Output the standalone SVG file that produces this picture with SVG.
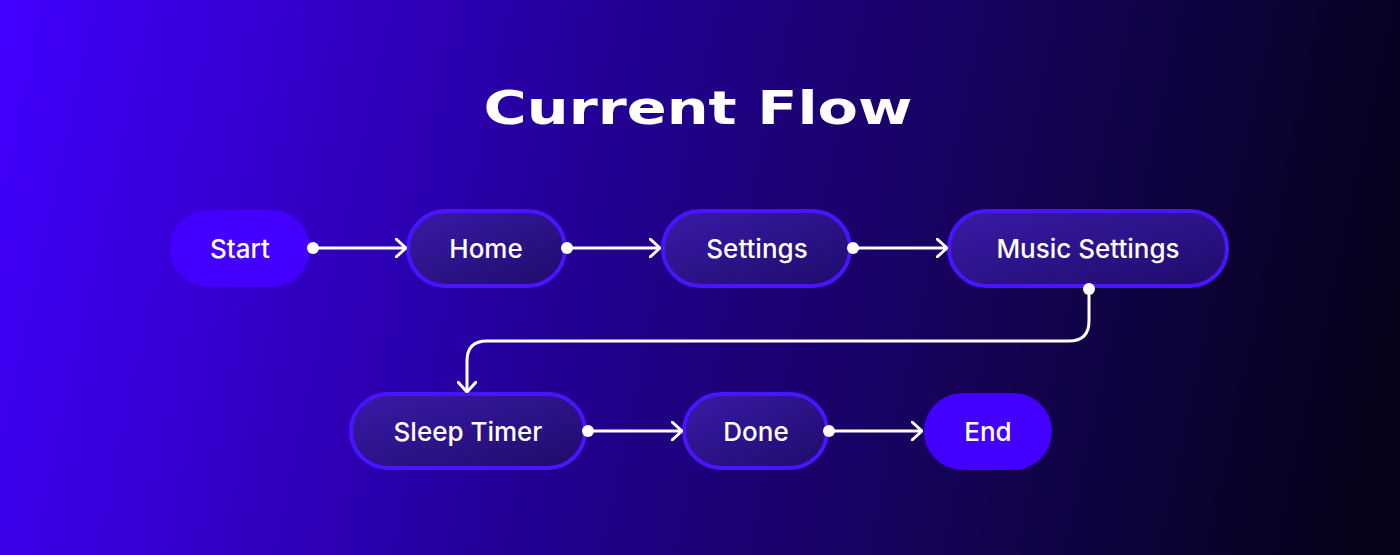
<svg xmlns="http://www.w3.org/2000/svg" width="1400" height="555" viewBox="0 0 1400 555">
<defs>
<linearGradient id="bg" x1="0" y1="0" x2="1400" y2="300" gradientUnits="userSpaceOnUse">
<stop offset="0" stop-color="#4200ff"/><stop offset="0.45" stop-color="#22008f"/><stop offset="0.75" stop-color="#13034f"/><stop offset="1" stop-color="#05021a"/>
</linearGradient>
<linearGradient id="nf" x1="0" y1="0" x2="1" y2="1">
<stop offset="0" stop-color="#3a1aa8"/><stop offset="1" stop-color="#1e0c6a"/>
</linearGradient>
<marker id="ah" viewBox="0 0 12 20" refX="11" refY="10" markerWidth="12" markerHeight="20" markerUnits="userSpaceOnUse" orient="auto">
<path d="M1,1 L11,10 L1,19" fill="none" stroke="#fff" stroke-width="3" stroke-linecap="round"/>
</marker>
<style>
.n{fill:url(#nf);stroke:#4a14ff;stroke-width:4}
.s{fill:#4400ff}
.t{font-family:Inter,"Noto Sans",sans-serif;font-size:26px;font-weight:500;fill:#fff;text-anchor:middle;dominant-baseline:central}
.c{fill:none;stroke:#fff;stroke-width:3;marker-end:url(#ah)}
</style>
</defs>
<rect width="1400" height="555" fill="url(#bg)"/>
<text x="698" y="124" transform="translate(698 0) scale(1.28 1) translate(-698 0)" text-anchor="middle" font-family="'DejaVu Sans',sans-serif" font-weight="bold" font-size="46" fill="#fff">Current Flow</text>
<g id="start"><rect class="s" x="170" y="210" width="140" height="77" rx="38.5"/><text class="t" x="240" y="248">Start</text></g>
<g id="home"><rect class="n" x="408" y="211" width="157" height="75" rx="37.5"/><text class="t" x="486" y="248">Home</text></g>
<g id="settings"><rect class="n" x="663" y="211" width="187" height="75" rx="37.5"/><text class="t" x="757" y="248">Settings</text></g>
<g id="music"><rect class="n" x="949" y="211" width="278" height="75" rx="37.5"/><text class="t" x="1088" y="248">Music Settings</text></g>
<g id="sleep"><rect class="n" x="351" y="394" width="234" height="74" rx="37"/><text class="t" x="468" y="431">Sleep Timer</text></g>
<g id="done"><rect class="n" x="684" y="394" width="143" height="74" rx="37"/><text class="t" x="756" y="431">Done</text></g>
<g id="end"><rect class="s" x="924" y="393" width="128" height="77" rx="38.5"/><text class="t" x="988" y="431">End</text></g>
<g id="connectors" fill="#fff">
<path class="c" d="M313,248 H406"/><circle cx="313" cy="248" r="6"/>
<path class="c" d="M567,248 H660"/><circle cx="567" cy="248" r="6"/>
<path class="c" d="M853,248 H947"/><circle cx="853" cy="248" r="6"/>
<path class="c" d="M1089,289 V321 Q1089,341 1069,341 H487 Q467,341 467,361 V392"/><circle cx="1089" cy="289" r="6"/>
<path class="c" d="M588,431 H682"/><circle cx="588" cy="431" r="6"/>
<path class="c" d="M829,431 H922"/><circle cx="829" cy="431" r="6"/>
</g>
</svg>
